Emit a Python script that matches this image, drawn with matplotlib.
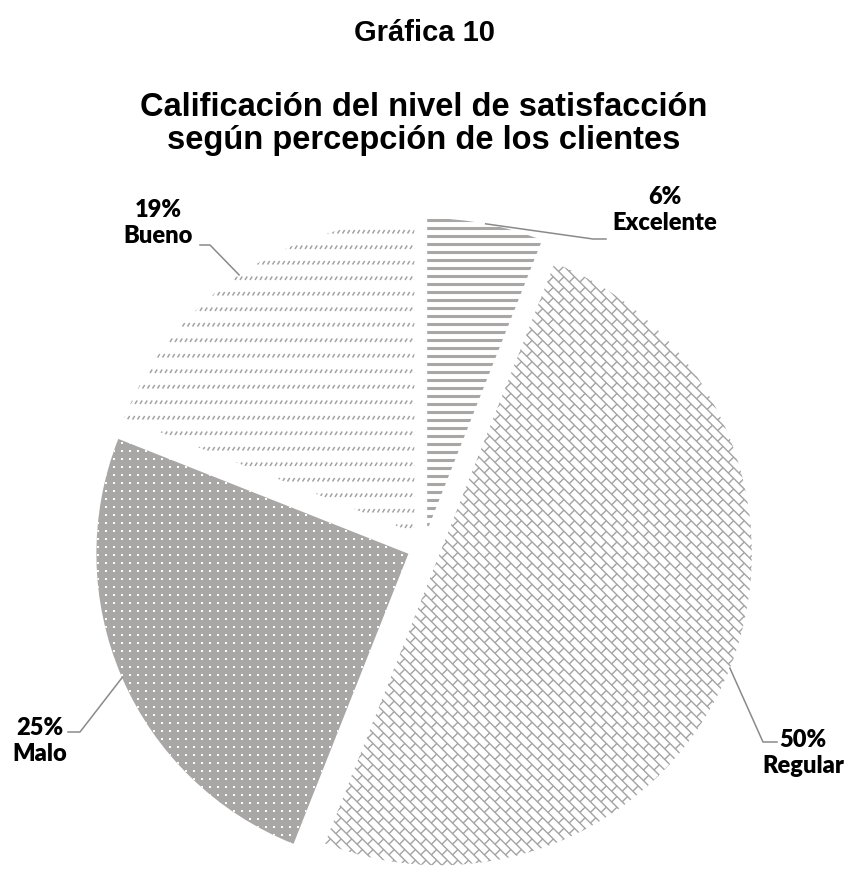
import numpy as np
import matplotlib
matplotlib.use("Agg")
import matplotlib.pyplot as plt
from matplotlib.collections import LineCollection

# datos de la gráfica
categorias = ["Excelente", "Regular", "Malo", "Bueno"]
porcentajes = [6, 50, 25, 19]

W, H = 847, 869
GRIS = "#a9a6a6"
GRIS_TRAMA = "#a3a3a3"
GRIS_GUIA = "#8a8a8a"


def iy(y):
    # coordenada vertical medida desde arriba
    return H - y


fig = plt.figure(figsize=(W / 100, H / 100), dpi=100)
ax = fig.add_axes([0, 0, 1, 1])

wedges, _ = ax.pie(porcentajes, startangle=90, counterclock=False,
                   center=(424, iy(547)), radius=312, explode=[17] * 4,
                   colors=["white", "white", GRIS, "white"],
                   wedgeprops=dict(linewidth=0))
ax.set_xlim(0, W)
ax.set_ylim(0, H)
ax.set_aspect("equal")
ax.axis("off")

w_exc, w_reg, w_mal, w_bue = wedges

# Excelente: franjas horizontales
ys = np.arange(iy(220) % 8.0 - 8, H + 8, 8.0)
seg = [[(0, y), (W, y)] for y in ys]
lc = LineCollection(seg, colors=GRIS, linewidths=2.2)
ax.add_collection(lc)
lc.set_clip_path(w_exc)

# Malo: puntos blancos sobre gris
gx, gy = np.meshgrid(np.arange(2, W, 8.0), np.arange(2, H, 8.0))
sc = ax.scatter(gx.ravel(), gy.ravel(), marker="s", s=2.6, c="white", linewidths=0)
sc.set_clip_path(w_mal)

# Bueno: filas de trazos diagonales cortos
seg = []
for i, y in enumerate(np.arange(0, H, 15.5)):
    off = 2.5 if i % 2 else 0
    for x in np.arange(off, W, 5.0):
        seg.append([(x, y), (x + 2.2, y + 3.5)])
lc = LineCollection(seg, colors=GRIS_TRAMA, linewidths=1.1)
ax.add_collection(lc)
lc.set_clip_path(w_bue)

# Regular: ladrillo diagonal
u = np.array([1.0, -1.0]) / np.sqrt(2)
v = np.array([1.0, 1.0]) / np.sqrt(2)
s, L = 7.5, 15.0
seg = []
for k in range(int(1250 / s)):
    b = k * s
    seg.append([tuple(-650 * u + b * v), tuple(650 * u + b * v)])
    for a in np.arange(-650 + (k % 2) * L / 2, 650, L):
        seg.append([tuple(a * u + b * v), tuple(a * u + (b + s) * v)])
lc = LineCollection(seg, colors=GRIS_TRAMA, linewidths=1.0)
ax.add_collection(lc)
lc.set_clip_path(w_reg)

# etiquetas con líneas guía
pos_texto = {"Excelente": (665, 210), "Regular": (803, 753),
             "Malo": (40, 741), "Bueno": (158, 223)}
codo = {"Excelente": [(593, 239), (606, 239)], "Regular": [(763, 742), (777, 742)],
        "Malo": [(80, 732), (68, 732)], "Bueno": [(210, 245), (200, 245)]}

for w, cat, pct in zip(wedges, categorias, porcentajes):
    ang = np.deg2rad((w.theta1 + w.theta2) / 2)
    x0 = w.center[0] + w.r * np.cos(ang)
    y0 = w.center[1] + w.r * np.sin(ang)
    xs = [x0] + [p[0] for p in codo[cat]]
    ys = [y0] + [iy(p[1]) for p in codo[cat]]
    ax.plot(xs, ys, color=GRIS_GUIA, lw=1.1)
    tx, ty = pos_texto[cat]
    ax.text(tx, iy(ty), f"{pct}%\n{cat}", ha="center", va="center",
            fontsize=17, fontweight="heavy", family="Lato", linespacing=1.2)

# títulos
fig.text(424 / W, 1 - 33 / H, "Gráfica 10", ha="center", va="center",
         fontsize=21, fontweight="bold", family="Liberation Sans")
fig.text(424 / W, 1 - 124 / H, "Calificación del nivel de satisfacción\nsegún percepción de los clientes",
         ha="center", va="center", fontsize=23.5, fontweight="bold",
         family="Liberation Sans", linespacing=1.05)

fig.savefig("out.png", dpi=100)
